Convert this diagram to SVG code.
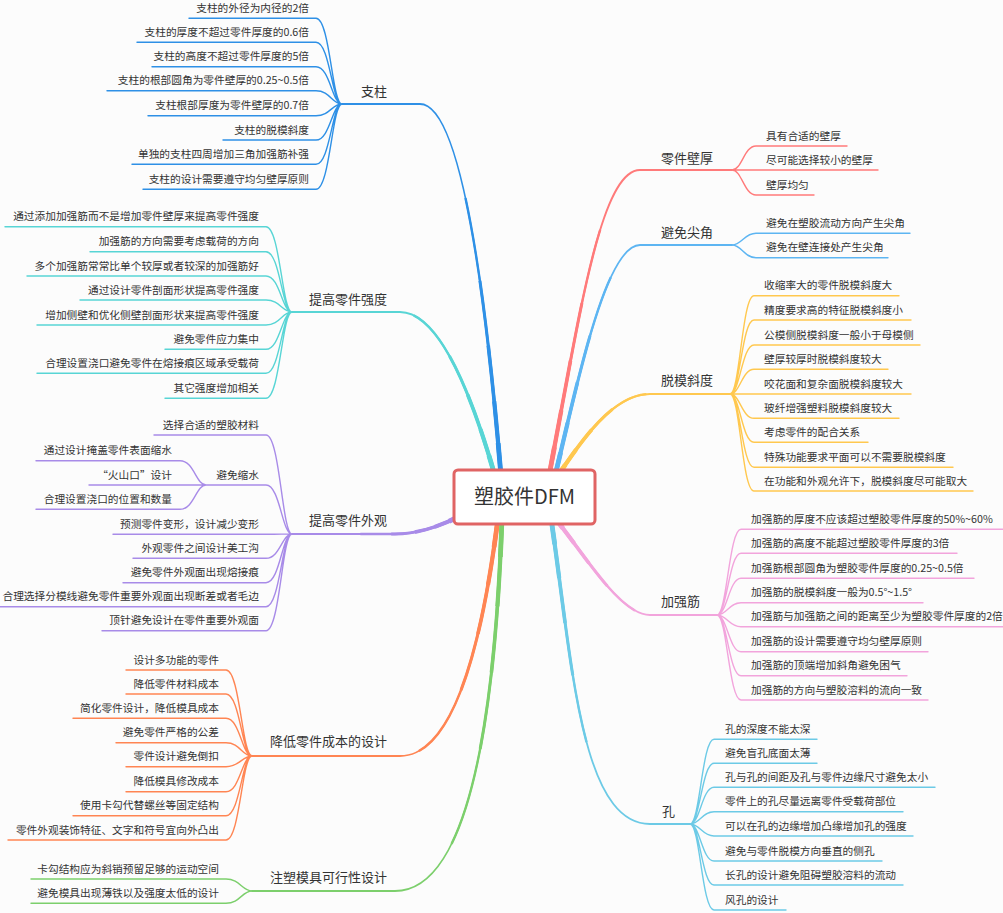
<svg xmlns="http://www.w3.org/2000/svg" width="1003" height="913" viewBox="0 0 1003 913">
<style>
text{font-family:"Noto Sans CJK SC","Noto Sans",sans-serif;fill:#333;font-size:10.7px}
.m{font-size:13px}
.ctr{font-size:20px;text-anchor:middle}
.e{text-anchor:end}
.l{fill:none;stroke-width:1.4;stroke-linecap:round}
.b{fill:none}
.w0{stroke-width:1.8;stroke-linecap:round}
.w1{stroke-width:2.4;stroke-dasharray:0 40 60 0}
.w2{stroke-width:3;stroke-dasharray:0 58 42 0}
.w3{stroke-width:3.6;stroke-dasharray:0 72 28 0}
.w4{stroke-width:4.2;stroke-dasharray:0 84 16 0}
.w5{stroke-width:4.8;stroke-dasharray:0 93 7 0}
.c1{stroke:#2e90e6}.c2{stroke:#58d5d5}.c3{stroke:#a88be8}.c4{stroke:#ff8553}.c5{stroke:#7ccf6c}
.c6{stroke:#ff7a7a}.c7{stroke:#5db5f2}.c8{stroke:#ffc84f}.c9{stroke:#f2a4dc}.c10{stroke:#6ccae6}
.node{fill:#fff;stroke:#e06464;stroke-width:3}
</style>
<defs>
<path id="p1" pathLength="100" d="M342 104H420Q470 104 501 476"/>
<path id="p2" pathLength="100" d="M292 312H400Q448 312 495 476"/>
<path id="p3" pathLength="100" d="M292 534H395Q425 534 460 516"/>
<path id="p4" pathLength="100" d="M252 756H400Q468 756 498 518"/>
<path id="p5" pathLength="100" d="M252 891H395Q489 891 502 518"/>
<path id="p6" pathLength="100" d="M732 170H640C600 170 579 319 549 476"/>
<path id="p7" pathLength="100" d="M732 245H640C605 245 576 390 555 476"/>
<path id="p8" pathLength="100" d="M730 394H650C615 394 585 435 557 477"/>
<path id="p9" pathLength="100" d="M717 615H650C620 615 585 555 554 517"/>
<path id="p10" pathLength="100" d="M690 824H650C580 824 572 660 551 518"/>
</defs>
<rect width="1003" height="913" fill="#fcfcfc"/>
<g id="connectors">
<g class="b c1"><use href="#p1" class="w0"/><use href="#p1" class="w1"/><use href="#p1" class="w2"/><use href="#p1" class="w3"/><use href="#p1" class="w4"/><use href="#p1" class="w5"/></g>
<g class="b c2"><use href="#p2" class="w0"/><use href="#p2" class="w1"/><use href="#p2" class="w2"/><use href="#p2" class="w3"/><use href="#p2" class="w4"/><use href="#p2" class="w5"/></g>
<g class="b c3"><use href="#p3" class="w0"/><use href="#p3" class="w1"/><use href="#p3" class="w2"/><use href="#p3" class="w3"/><use href="#p3" class="w4"/><use href="#p3" class="w5"/></g>
<g class="b c4"><use href="#p4" class="w0"/><use href="#p4" class="w1"/><use href="#p4" class="w2"/><use href="#p4" class="w3"/><use href="#p4" class="w4"/><use href="#p4" class="w5"/></g>
<g class="b c5"><use href="#p5" class="w0"/><use href="#p5" class="w1"/><use href="#p5" class="w2"/><use href="#p5" class="w3"/><use href="#p5" class="w4"/><use href="#p5" class="w5"/></g>
<g class="b c6"><use href="#p6" class="w0"/><use href="#p6" class="w1"/><use href="#p6" class="w2"/><use href="#p6" class="w3"/><use href="#p6" class="w4"/><use href="#p6" class="w5"/></g>
<g class="b c7"><use href="#p7" class="w0"/><use href="#p7" class="w1"/><use href="#p7" class="w2"/><use href="#p7" class="w3"/><use href="#p7" class="w4"/><use href="#p7" class="w5"/></g>
<g class="b c8"><use href="#p8" class="w0"/><use href="#p8" class="w1"/><use href="#p8" class="w2"/><use href="#p8" class="w3"/><use href="#p8" class="w4"/><use href="#p8" class="w5"/></g>
<g class="b c9"><use href="#p9" class="w0"/><use href="#p9" class="w1"/><use href="#p9" class="w2"/><use href="#p9" class="w3"/><use href="#p9" class="w4"/><use href="#p9" class="w5"/></g>
<g class="b c10"><use href="#p10" class="w0"/><use href="#p10" class="w1"/><use href="#p10" class="w2"/><use href="#p10" class="w3"/><use href="#p10" class="w4"/><use href="#p10" class="w5"/></g>
<path class="l c1" d="M342 104C332 104 330 18.3 316 18.3H189M342 104C332 104 330 42.3 316 42.3H137M342 104C332 104 330 66.7 316 66.7H152M342 104C332 104 330 90.7 316 90.7H107M342 104C332 104 330 115.7 316 115.7H148M342 104C332 104 330 140 316 140H223M342 104C332 104 330 164.3 316 164.3H132M342 104C332 104 330 189.3 316 189.3H143"/>
<path class="l c2" d="M292 312C282 312 280 226.7 266 226.7H5M292 312C282 312 280 251.7 266 251.7H90M292 312C282 312 280 276 266 276H27M292 312C282 312 280 300 266 300H80M292 312C282 312 280 325 266 325H37M292 312C282 312 280 349.3 266 349.3H165M292 312C282 312 280 373.3 266 373.3H37M292 312C282 312 280 398.3 266 398.3H165"/>
<path class="l c3" d="M292 534C282 534 280 435 266 435H154M292 534C282 534 280 485 266 485H206M292 534C282 534 280 534.3 266 534.3H113M292 534C282 534 280 558.3 266 558.3H133M292 534C282 534 280 582.7 266 582.7H123M292 534C282 534 280 606.7 266 606.7H0M292 534C282 534 280 630.7 266 630.7H102M206 485C196 485 194 460.7 180 460.7H36M206 485C196 485 194 485 180 485H89M206 485C196 485 194 509.3 180 509.3H36"/>
<path class="l c4" d="M252 756C242 756 240 670 226 670H126M252 756C242 756 240 694 226 694H126M252 756C242 756 240 718.3 226 718.3H73M252 756C242 756 240 742.7 226 742.7H116M252 756C242 756 240 766.7 226 766.7H126M252 756C242 756 240 791.7 226 791.7H126M252 756C242 756 240 815.7 226 815.7H73M252 756C242 756 240 840 226 840H8"/>
<path class="l c5" d="M252 891C242 891 240 879 226 879H31M252 891C242 891 240 903.3 226 903.3H31"/>
<path class="l c6" d="M732 170C742 170 744 146 756 146H847M732 170C742 170 744 170 756 170H878M732 170C742 170 744 195 756 195H814"/>
<path class="l c7" d="M732 245C742 245 744 233.3 756 233.3H910M732 245C742 245 744 257.7 756 257.7H888"/>
<path class="l c8" d="M730 394C740 394 742 295.7 754 295.7H899M730 394C740 394 742 320 754 320H911M730 394C740 394 742 345 754 345H920M730 394C740 394 742 369.3 754 369.3H888M730 394C740 394 742 394 754 394H911M730 394C740 394 742 418.3 754 418.3H899M730 394C740 394 742 442.3 754 442.3H868M730 394C740 394 742 467.3 754 467.3H953M730 394C740 394 742 491 754 491H973"/>
<path class="l c9" d="M717 615C727 615 729 529.3 741 529.3H1003M717 615C727 615 729 553.3 741 553.3H957M717 615C727 615 729 578.3 741 578.3H974M717 615C727 615 729 602.7 741 602.7H923M717 615C727 615 729 626.7 741 626.7H1010M717 615C727 615 729 651.7 741 651.7H928M717 615C727 615 729 675.7 741 675.7H907M717 615C727 615 729 700 741 700H928"/>
<path class="l c10" d="M690 824C700 824 702 739.3 714 739.3H817M690 824C700 824 702 763.3 714 763.3H817M690 824C700 824 702 787.3 714 787.3H935M690 824C700 824 702 811.7 714 811.7H903M690 824C700 824 702 836 714 836H913M690 824C700 824 702 861 714 861H882M690 824C700 824 702 885 714 885H903M690 824C700 824 702 910 714 910H786"/>
</g>
<g id="root"><rect class="node" x="454" y="470" width="141" height="54" rx="4"/><text class="ctr" x="524.5" y="504">塑胶件DFM</text></g>
<g id="zhizhu"><text class="m e" x="387" y="96">支柱</text></g>
<g id="zz1"><text class="e" x="309" y="11.8">支柱的外径为内径的2倍</text></g>
<g id="zz2"><text class="e" x="309" y="35.8">支柱的厚度不超过零件厚度的0.6倍</text></g>
<g id="zz3"><text class="e" x="309" y="60.2">支柱的高度不超过零件厚度的5倍</text></g>
<g id="zz4"><text class="e" x="309" y="84.2">支柱的根部圆角为零件壁厚的0.25~0.5倍</text></g>
<g id="zz5"><text class="e" x="309" y="109.2">支柱根部厚度为零件壁厚的0.7倍</text></g>
<g id="zz6"><text class="e" x="309" y="133.5">支柱的脱模斜度</text></g>
<g id="zz7"><text class="e" x="309" y="157.8">单独的支柱四周增加三角加强筋补强</text></g>
<g id="zz8"><text class="e" x="309" y="182.8">支柱的设计需要遵守均匀壁厚原则</text></g>
<g id="qiangdu"><text class="m e" x="387" y="304">提高零件强度</text></g>
<g id="qd1"><text class="e" x="259" y="220.2">通过添加加强筋而不是增加零件壁厚来提高零件强度</text></g>
<g id="qd2"><text class="e" x="259" y="245.2">加强筋的方向需要考虑载荷的方向</text></g>
<g id="qd3"><text class="e" x="259" y="269.5">多个加强筋常常比单个较厚或者较深的加强筋好</text></g>
<g id="qd4"><text class="e" x="259" y="293.5">通过设计零件剖面形状提高零件强度</text></g>
<g id="qd5"><text class="e" x="259" y="318.5">增加侧壁和优化侧壁剖面形状来提高零件强度</text></g>
<g id="qd6"><text class="e" x="259" y="342.8">避免零件应力集中</text></g>
<g id="qd7"><text class="e" x="259" y="366.8">合理设置浇口避免零件在熔接痕区域承受载荷</text></g>
<g id="qd8"><text class="e" x="259" y="391.8">其它强度增加相关</text></g>
<g id="waiguan"><text class="m e" x="387" y="525">提高零件外观</text></g>
<g id="wg1"><text class="e" x="259" y="428.5">选择合适的塑胶材料</text></g>
<g id="wg2"><text class="e" x="259" y="478.5">避免缩水</text></g>
<g id="wg2a"><text class="e" x="172" y="454.2">通过设计掩盖零件表面缩水</text></g>
<g id="wg2b"><text class="e" x="172" y="478.5">“火山口”设计</text></g>
<g id="wg2c"><text class="e" x="172" y="502.8">合理设置浇口的位置和数量</text></g>
<g id="wg3"><text class="e" x="259" y="527.8">预测零件变形，设计减少变形</text></g>
<g id="wg4"><text class="e" x="259" y="551.8">外观零件之间设计美工沟</text></g>
<g id="wg5"><text class="e" x="259" y="576.2">避免零件外观面出现熔接痕</text></g>
<g id="wg6"><text class="e" x="259" y="600.2">合理选择分模线避免零件重要外观面出现断差或者毛边</text></g>
<g id="wg7"><text class="e" x="259" y="624.2">顶针避免设计在零件重要外观面</text></g>
<g id="chengben"><text class="m e" x="387" y="746">降低零件成本的设计</text></g>
<g id="cb1"><text class="e" x="219" y="663.5">设计多功能的零件</text></g>
<g id="cb2"><text class="e" x="219" y="687.5">降低零件材料成本</text></g>
<g id="cb3"><text class="e" x="219" y="711.8">简化零件设计，降低模具成本</text></g>
<g id="cb4"><text class="e" x="219" y="736.2">避免零件严格的公差</text></g>
<g id="cb5"><text class="e" x="219" y="760.2">零件设计避免倒扣</text></g>
<g id="cb6"><text class="e" x="219" y="785.2">降低模具修改成本</text></g>
<g id="cb7"><text class="e" x="219" y="809.2">使用卡勾代替螺丝等固定结构</text></g>
<g id="cb8"><text class="e" x="219" y="833.5">零件外观装饰特征、文字和符号宜向外凸出</text></g>
<g id="muju"><text class="m e" x="387" y="882">注塑模具可行性设计</text></g>
<g id="mj1"><text class="e" x="219" y="872.5">卡勾结构应为斜销预留足够的运动空间</text></g>
<g id="mj2"><text class="e" x="219" y="896.8">避免模具出现薄铁以及强度太低的设计</text></g>
<g id="bihou"><text class="m" x="661" y="163">零件壁厚</text></g>
<g id="bh1"><text x="766" y="139.5">具有合适的壁厚</text></g>
<g id="bh2"><text x="766" y="163.5">尽可能选择较小的壁厚</text></g>
<g id="bh3"><text x="766" y="188.5">壁厚均匀</text></g>
<g id="jianjiao"><text class="m" x="661" y="237">避免尖角</text></g>
<g id="jj1"><text x="766" y="226.8">避免在塑胶流动方向产生尖角</text></g>
<g id="jj2"><text x="766" y="251.2">避免在壁连接处产生尖角</text></g>
<g id="tuomo"><text class="m" x="661" y="385">脱模斜度</text></g>
<g id="tm1"><text x="764" y="289.2">收缩率大的零件脱模斜度大</text></g>
<g id="tm2"><text x="764" y="313.5">精度要求高的特征脱模斜度小</text></g>
<g id="tm3"><text x="764" y="338.5">公模侧脱模斜度一般小于母模侧</text></g>
<g id="tm4"><text x="764" y="362.8">壁厚较厚时脱模斜度较大</text></g>
<g id="tm5"><text x="764" y="387.5">咬花面和复杂面脱模斜度较大</text></g>
<g id="tm6"><text x="764" y="411.8">玻纤增强塑料脱模斜度较大</text></g>
<g id="tm7"><text x="764" y="435.8">考虑零件的配合关系</text></g>
<g id="tm8"><text x="764" y="460.8">特殊功能要求平面可以不需要脱模斜度</text></g>
<g id="tm9"><text x="764" y="484.5">在功能和外观允许下，脱模斜度尽可能取大</text></g>
<g id="jiaqiangjin"><text class="m" x="661" y="606">加强筋</text></g>
<g id="jq1"><text x="751" y="522.8">加强筋的厚度不应该超过塑胶零件厚度的50%~60%</text></g>
<g id="jq2"><text x="751" y="546.8">加强筋的高度不能超过塑胶零件厚度的3倍</text></g>
<g id="jq3"><text x="751" y="571.8">加强筋根部圆角为塑胶零件厚度的0.25~0.5倍</text></g>
<g id="jq4"><text x="751" y="596.2">加强筋的脱模斜度一般为0.5°~1.5°</text></g>
<g id="jq5"><text x="751" y="620.2">加强筋与加强筋之间的距离至少为塑胶零件厚度的2倍</text></g>
<g id="jq6"><text x="751" y="645.2">加强筋的设计需要遵守均匀壁厚原则</text></g>
<g id="jq7"><text x="751" y="669.2">加强筋的顶端增加斜角避免困气</text></g>
<g id="jq8"><text x="751" y="693.5">加强筋的方向与塑胶溶料的流向一致</text></g>
<g id="kong"><text class="m" x="662" y="816">孔</text></g>
<g id="k1"><text x="725" y="732.8">孔的深度不能太深</text></g>
<g id="k2"><text x="725" y="756.8">避免盲孔底面太薄</text></g>
<g id="k3"><text x="725" y="780.8">孔与孔的间距及孔与零件边缘尺寸避免太小</text></g>
<g id="k4"><text x="725" y="805.2">零件上的孔尽量远离零件受载荷部位</text></g>
<g id="k5"><text x="725" y="829.5">可以在孔的边缘增加凸缘增加孔的强度</text></g>
<g id="k6"><text x="725" y="854.5">避免与零件脱模方向垂直的侧孔</text></g>
<g id="k7"><text x="725" y="878.5">长孔的设计避免阻碍塑胶溶料的流动</text></g>
<g id="k8"><text x="725" y="903.5">风孔的设计</text></g>
</svg>
